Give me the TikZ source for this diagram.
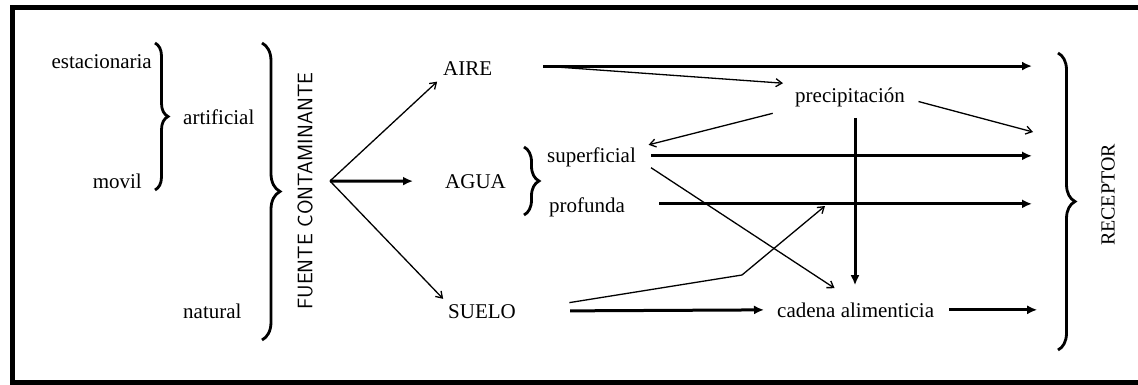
\documentclass[tikz,border=0pt]{standalone}
\usepackage{fontspec}
\setmainfont{Liberation Serif}
\usepackage{tikz}
\usetikzlibrary{positioning, arrows.meta, calc, decorations.pathreplacing}

\begin{document}
\begin{tikzpicture}[x=1pt, y=-1pt,
    txt/.style={inner sep=0pt, font=\fontsize{21}{24}\selectfont},
    heavy/.style={-{Latex[length=10pt, width=9pt]}, line width=3pt},
    light/.style={-{Straight Barb[length=6pt, width=8pt]}, line width=1.3pt},
    grp/.style={decorate, decoration={brace, amplitude=#1}, line width=2.8pt}]
    \useasboundingbox (0,0) rectangle (1138,385);
    \draw[line width=5pt] (1145,8) -- (12,8) -- (12,382) -- (1145,382);

    \node[txt, anchor=base east] (estac) at (152,69) {estacionaria};
    \node[txt, anchor=base east] (movil) at (142,188) {movil};
    \node[txt, anchor=base west] (artif) at (183,125) {artificial};
    \node[txt, anchor=base west] (natur) at (183,318) {natural};
    \node[txt, font=\sffamily\fontsize{21}{24}\selectfont, rotate=90] (fuente) at (305,191) {FUENTE CONTAMINANTE};
    \node[txt, anchor=base west] (aire) at (443,76) {AIRE};
    \node[txt, anchor=base west] (agua) at (445,188) {AGUA};
    \node[txt, anchor=base west] (suelo) at (448,318) {SUELO};
    \node[txt, anchor=base west] (superf) at (547,163) {superficial};
    \node[txt, anchor=base west] (prof) at (549,212) {profunda};
    \node[txt, anchor=base west] (precip) at (795,103) {precipitación};
    \node[txt, anchor=base west] (cadena) at (777,317) {cadena alimenticia};
    \node[txt, font=\fontsize{20}{24}\selectfont, rotate=90] (recep) at (1108,195) {RECEPTOR};

    \draw[grp=13pt] (155,43) -- (155,190);
    \draw[grp=18pt] (262,43) -- (262,340);
    \draw[grp=15pt] (524,147) -- (524,215);
    \draw[grp=17pt] (1058,53) -- (1058,350);

    \coordinate (fork) at (330,181);
    \coordinate (rx) at (1032,0);
    \coordinate (aireout) at ($(aire.east)+(51,-3)$);
    \coordinate (precin) at ($(precip.north west)+(-12,-5)$);
    \coordinate (precdown) at (855,118);
    \coordinate (rprec) at (1033,132);
    \coordinate (superout) at ($(superf.east)+(15,-2)$);
    \coordinate (profout) at ($(prof.east)+(34,-3)$);
    \coordinate (kink) at (742,275);
    \coordinate (profin) at (825,206);
    \coordinate (cadin) at ($(cadena.north)+(-21,-14)$);

    \draw[light, shorten >=8pt] (fork) -- (aire.south west);
    \draw[heavy, shorten >=32pt] (fork) -- (agua.west);
    \draw[light, shorten >=7pt] (fork) -- (suelo.north west);

    \draw[heavy] (aireout) -- (aireout -| rx);
    \draw[light] (aireout) -- (precin);
    \draw[light, shorten <=23pt, shorten >=13pt] (precip.south west) -- (superf.north east);
    \draw[light, shorten <=14pt] (precip.east) -- (rprec);
    \draw[heavy, shorten >=17pt] (precdown) -- (precdown |- cadena.north);

    \draw[heavy] (superout) -- (superout -| rx);
    \draw[light, shorten <=18pt] (superf.east) -- (cadin);
    \draw[heavy] (profout) -- (profout -| rx);

    \draw[light, shorten <=54pt] (suelo.east) -- (kink) -- (profin);
    \draw[heavy, shorten <=54pt, shorten >=13pt] (suelo.east) -- (cadena.west);
    \draw[heavy, shorten <=15pt] (cadena.east) -- ++(103,0);
\end{tikzpicture}
\end{document}
